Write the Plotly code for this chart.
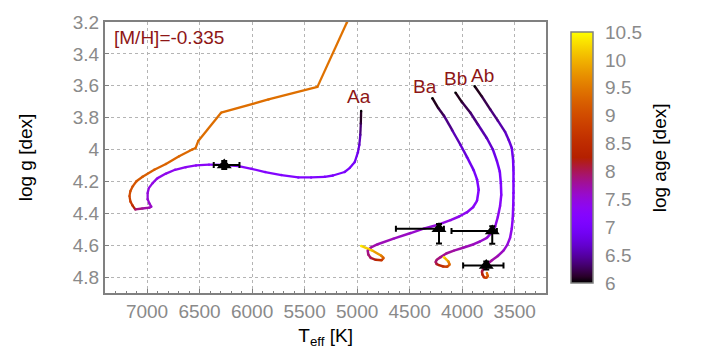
import math
import plotly.graph_objects as go

# ---- evolutionary tracks: Teff [K], log g [dex], log age [dex] ----
aa_teff = [4962, 4965, 4970, 4979, 4993, 5022, 5069, 5119, 5230, 5308, 5438, 5560,
           5721, 5875, 6005, 6128, 6253, 6411, 6534, 6631, 6733, 6820, 6903, 6947,
           6983, 6994, 6994, 6978, 6959, 6978, 7044, 7111, 7139, 7158, 7167, 7158,
           7136, 7101, 7042, 6931, 6820, 6695, 6569, 6537, 6512, 6295, 5844, 5378,
           5097, 5075]
aa_logg = [3.758, 3.837, 3.909, 3.970, 4.018, 4.078, 4.115, 4.141, 4.163, 4.171, 4.175, 4.175,
           4.160, 4.141, 4.121, 4.104, 4.097, 4.095, 4.100, 4.111, 4.127, 4.151, 4.181, 4.211,
           4.242, 4.272, 4.312, 4.338, 4.359, 4.365, 4.370, 4.376, 4.350, 4.326, 4.292, 4.260,
           4.231, 4.199, 4.171, 4.127, 4.091, 4.042, 4.000, 3.990, 3.946, 3.769, 3.686, 3.607,
           3.202, 3.170]
aa_age = [6.0, 6.2, 6.5, 6.7, 6.85, 6.95, 7.0, 7.05, 7.08, 7.1, 7.12, 7.15,
          7.17, 7.2, 7.22, 7.25, 7.27, 7.3, 7.32, 7.35, 7.37, 7.4, 7.42, 7.45,
          7.47, 7.5, 7.55, 7.58, 7.6, 7.7, 7.8, 7.95, 8.6, 8.8, 8.95, 9.05,
          9.1, 9.15, 9.2, 9.25, 9.3, 9.32, 9.35, 9.36, 9.38, 9.4, 9.41, 9.42,
          9.45, 9.46]

ba_teff = [4284, 4228, 4174, 4095, 4017, 3954, 3890, 3859, 3843, 3859, 3897, 3954,
           4029, 4111, 4221, 4360, 4490, 4653, 4804, 4868, 4899, 4894, 4870, 4823,
           4767, 4748, 4773, 4852, 4962]
ba_logg = [3.678, 3.740, 3.788, 3.879, 3.970, 4.048, 4.131, 4.187, 4.252, 4.322, 4.362, 4.393,
           4.420, 4.443, 4.470, 4.495, 4.524, 4.559, 4.594, 4.614, 4.634, 4.659, 4.680, 4.692,
           4.695, 4.680, 4.665, 4.635, 4.605]
ba_age = [6.0, 6.15, 6.3, 6.5, 6.65, 6.8, 6.95, 7.05, 7.15, 7.25, 7.3, 7.35,
          7.4, 7.45, 7.5, 7.55, 7.6, 7.65, 7.7, 7.75, 7.8, 7.9, 8.0, 8.3,
          8.7, 9.2, 9.6, 10.0, 10.4]

bb_teff = [4064, 4001, 3922, 3850, 3765, 3708, 3670, 3642, 3632, 3628, 3639, 3661,
           3686, 3727, 3765, 3831, 3890, 3991, 4079, 4152, 4206, 4242, 4253, 4242,
           4221, 4180, 4143, 4119, 4133, 4174]
bb_logg = [3.643, 3.704, 3.769, 3.843, 3.929, 4.000, 4.071, 4.139, 4.211, 4.284, 4.352, 4.423,
           4.483, 4.526, 4.554, 4.577, 4.594, 4.616, 4.634, 4.652, 4.675, 4.692, 4.705, 4.719,
           4.725, 4.734, 4.735, 4.722, 4.701, 4.675]
bb_age = [6.0, 6.15, 6.3, 6.45, 6.6, 6.75, 6.9, 7.0, 7.1, 7.2, 7.3, 7.4,
          7.45, 7.5, 7.55, 7.6, 7.65, 7.7, 7.75, 7.8, 7.85, 7.9, 7.95, 8.1,
          8.3, 8.6, 8.9, 9.3, 9.7, 10.3]

ab_teff = [3881, 3812, 3733, 3661, 3592, 3557, 3528, 3516, 3512, 3512, 3512, 3514,
           3519, 3528, 3544, 3571, 3607, 3661, 3717, 3765, 3798, 3812, 3807, 3793,
           3771, 3755, 3765]
ab_logg = [3.603, 3.668, 3.748, 3.819, 3.889, 3.940, 3.990, 4.060, 4.131, 4.199, 4.272, 4.350,
           4.433, 4.495, 4.554, 4.598, 4.634, 4.668, 4.695, 4.722, 4.746, 4.766, 4.785, 4.801,
           4.805, 4.794, 4.775]
ab_age = [6.0, 6.15, 6.3, 6.45, 6.6, 6.7, 6.8, 6.9, 7.0, 7.08, 7.15, 7.22,
          7.3, 7.38, 7.45, 7.52, 7.6, 7.68, 7.75, 7.85, 7.95, 8.1, 8.3, 8.6,
          8.9, 9.2, 9.4]

track_names = ["Aa", "Ba", "Bb", "Ab"]

# ---- measured stellar parameters ----
star_teff = [6265, 4221, 3714, 3771]
star_logg = [4.097, 4.497, 4.511, 4.728]
teff_err_plus = [100, 410, 388, 220]
teff_err_minus = [145, 47, 44, 164]
logg_err_plus = [0.025, 0.093, 0.080, 0.025]
logg_err_minus = [0.025, 0.030, 0.030, 0.025]

metallicity_label = "[M/H]=-0.335"

AGE_MIN, AGE_MAX = 6.0, 10.5
LABEL_RED = "#8e1616"
FONT = "Liberation Sans, Arial, sans-serif"


def gnuplot_rgb(t):
    t = min(max(t, 0.0), 1.0)
    r = math.sqrt(t)
    g = t ** 3
    b = max(math.sin(2 * math.pi * t), 0.0)
    return "rgb(%d,%d,%d)" % (round(255 * r), round(255 * g), round(255 * b))


colorscale = [[i / 40, gnuplot_rgb(i / 40)] for i in range(41)]


def age_color(age):
    return gnuplot_rgb((age - AGE_MIN) / (AGE_MAX - AGE_MIN))


fig = go.Figure()

tracks = [
    (aa_teff, aa_logg, aa_age, 2.3),
    (ba_teff, ba_logg, ba_age, 2.5),
    (bb_teff, bb_logg, bb_age, 2.5),
    (ab_teff, ab_logg, ab_age, 2.5),
]

# colour-coded track segments
for teff, logg, age, lw in tracks:
    for i in range(len(teff) - 1):
        fig.add_trace(go.Scatter(
            x=teff[i:i + 2], y=logg[i:i + 2], mode="lines",
            line=dict(color=age_color(0.5 * (age[i] + age[i + 1])), width=lw),
            hoverinfo="skip", showlegend=False, cliponaxis=True,
        ))

# joints (and the age colour bar)
all_t, all_g, all_a = [], [], []
for teff, logg, age, lw in tracks:
    all_t += teff
    all_g += logg
    all_a += age
fig.add_trace(go.Scatter(
    x=all_t, y=all_g, mode="markers",
    marker=dict(
        size=2.4, color=all_a, colorscale=colorscale, cmin=AGE_MIN, cmax=AGE_MAX,
        line=dict(width=0),
        showscale=True,
        colorbar=dict(
            xref="container", x=561 / 701, xanchor="left",
            yref="paper", y=0.5, yanchor="middle", len=1.0, lenmode="fraction",
            thickness=22, thicknessmode="pixels",
            outlinecolor="#808080", outlinewidth=1.5,
            tickmode="linear", tick0=6, dtick=0.5,
            ticks="outside", ticklen=8, tickcolor="rgba(128,128,128,0)",
            tickfont=dict(family=FONT, size=19, color="#8a8a8a"),
        ),
    ),
    hoverinfo="skip", showlegend=False,
))

# colour bar title
fig.add_annotation(
    xref="paper", yref="paper", x=(662 - 105) / 443, y=0.5, text="log age [dex]",
    textangle=-90, showarrow=False, xanchor="center", yanchor="middle",
    font=dict(family=FONT, size=19, color="black"),
)

# measurements with error bars
fig.add_trace(go.Scatter(
    x=star_teff, y=star_logg, mode="markers",
    marker=dict(symbol="triangle-up", size=13, color="black"),
    error_x=dict(type="data", symmetric=False, array=teff_err_plus,
                 arrayminus=teff_err_minus, color="black", thickness=2, width=3),
    error_y=dict(type="data", symmetric=False, array=logg_err_plus,
                 arrayminus=logg_err_minus, color="black", thickness=2, width=3),
    showlegend=False,
))

# component labels at the start of each track
label_offsets = {"Aa": (-2, 14), "Ba": (-7, 12), "Bb": (0, 14), "Ab": (8, 11)}
for name, (teff, logg, age, lw) in zip(track_names, tracks):
    dx, dy = label_offsets[name]
    fig.add_annotation(
        x=teff[0], y=logg[0], text=name, showarrow=False,
        xshift=dx, yshift=dy, xanchor="center", yanchor="middle",
        font=dict(family=FONT, size=19, color=LABEL_RED),
    )

fig.add_annotation(
    xref="paper", yref="paper", x=0.016, y=0.943, text=metallicity_label,
    showarrow=False, xanchor="left", yanchor="middle",
    font=dict(family=FONT, size=19, color=LABEL_RED),
)

axis_common = dict(
    showline=True, linecolor="#808080", linewidth=2, mirror=True,
    showgrid=True, gridcolor="#b4b4b4", gridwidth=1, griddash="dot",
    ticks="inside", ticklen=4, tickcolor="#808080",
    tickfont=dict(family=FONT, size=19, color="#8a8a8a"),
    zeroline=False,
)

fig.update_xaxes(
    range=[7400, 3200], tick0=3500, dtick=500,
    minor=dict(dtick=100, ticks="inside", ticklen=2, tickcolor="#808080", showgrid=False),
    title=dict(text="T<sub>eff</sub> [K]", font=dict(family=FONT, size=19, color="black"),
               standoff=8),
    **axis_common,
)
fig.update_yaxes(
    range=[4.9, 3.2], tick0=3.2, dtick=0.2,
    title=dict(text="log g [dex]", font=dict(family=FONT, size=19, color="black"),
               standoff=35),
    **axis_common,
)

fig.update_layout(
    width=701, height=360,
    margin=dict(l=105, r=153, t=13, b=67),
    paper_bgcolor="white", plot_bgcolor="white",
    font=dict(family=FONT, size=19),
)

fig.write_html("out.html")
